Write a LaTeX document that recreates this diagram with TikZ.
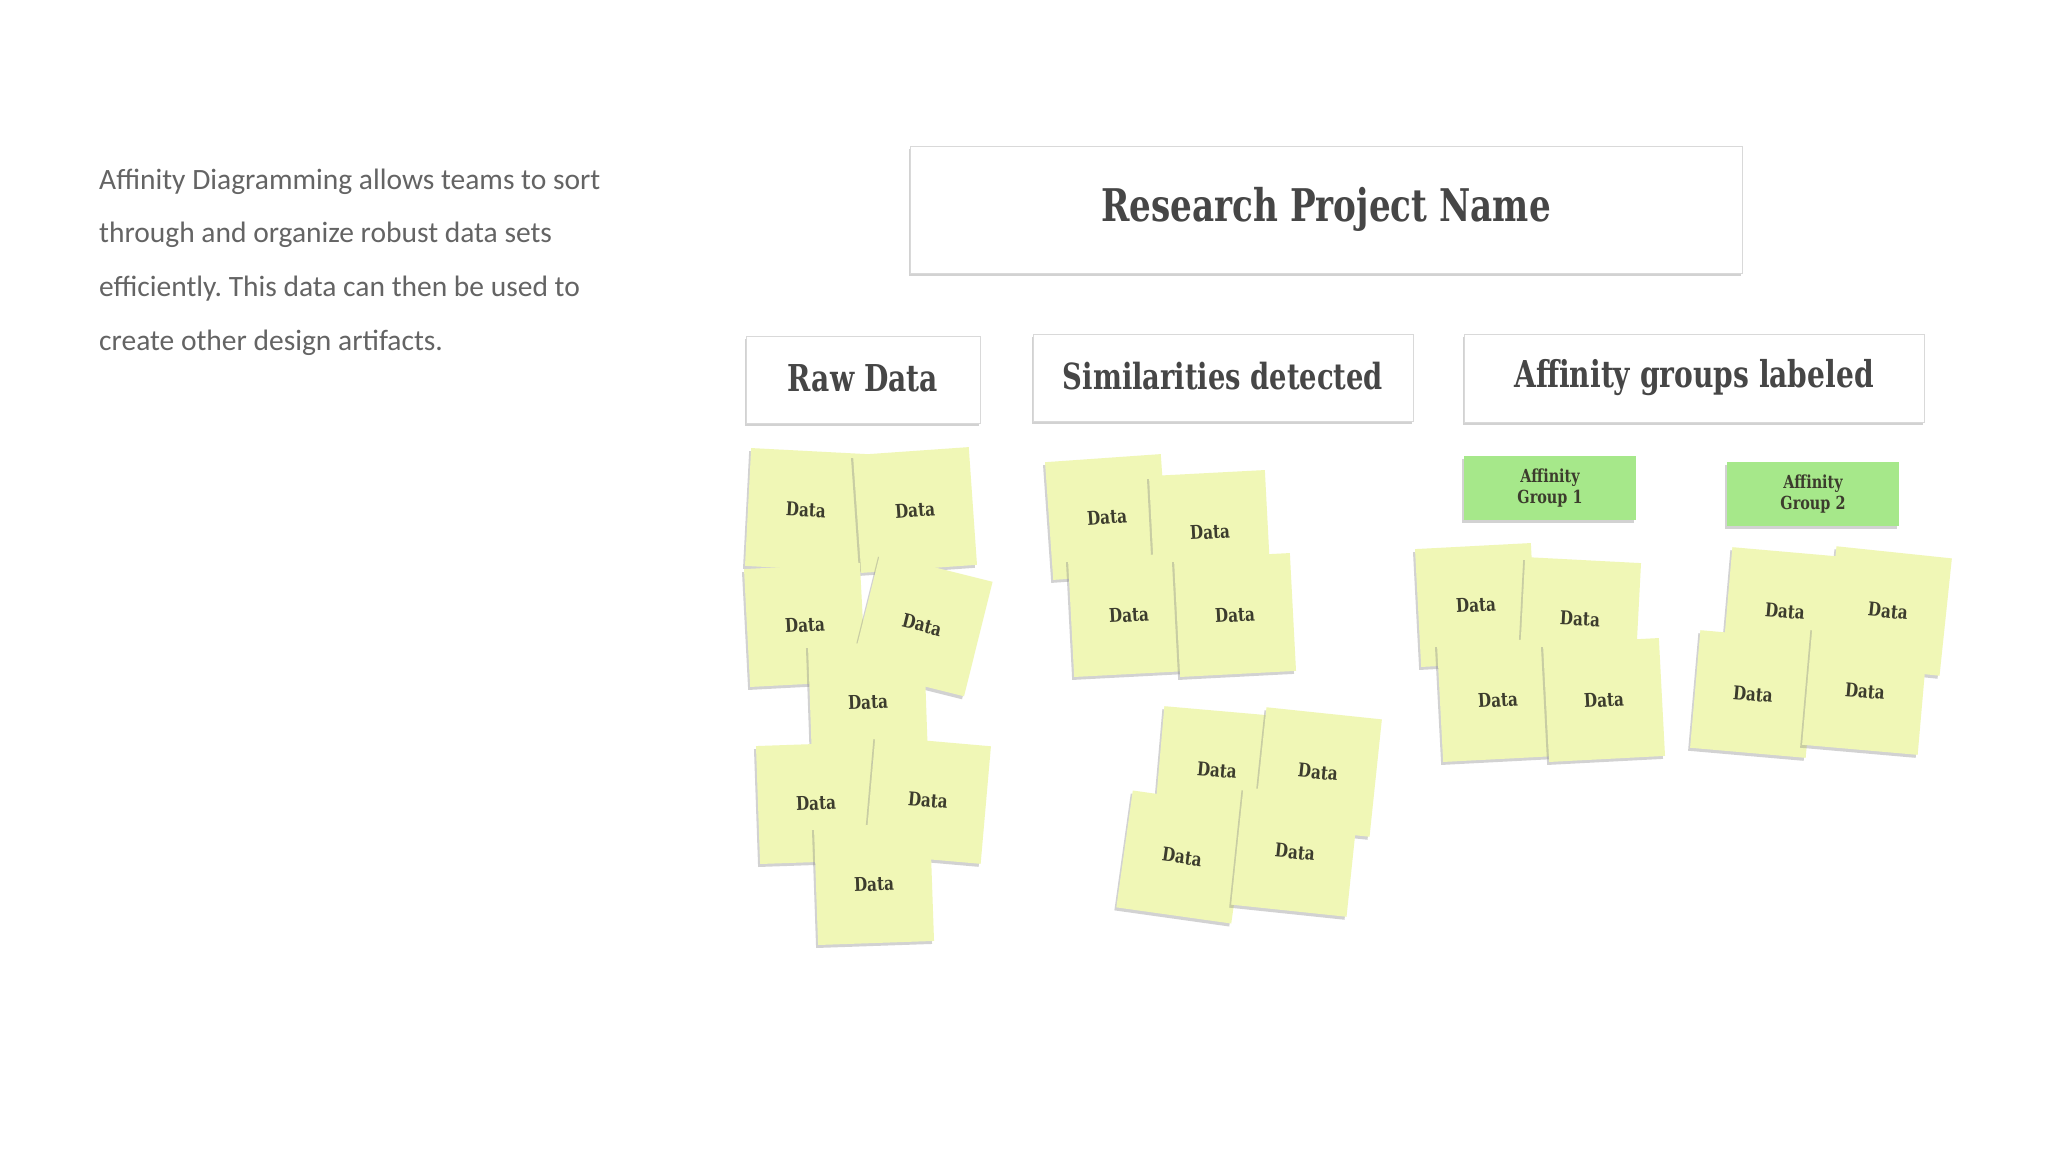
\documentclass[tikz,border=0pt]{standalone}
\usepackage{fontspec}
\setmainfont{Carlito}
\newfontfamily\slab[FakeStretch=0.76]{DejaVu Serif}
\newfontfamily\slabnote[FakeStretch=0.8]{DejaVu Serif}
\usetikzlibrary{shadows}
\definecolor{noteyellow}{RGB}{240,247,182}
\definecolor{notegreen}{RGB}{166,232,138}
\definecolor{bodygray}{RGB}{100,100,100}
\definecolor{headgray}{RGB}{70,70,70}
\definecolor{notetext}{RGB}{60,60,45}
\begin{document}
\frenchspacing
\begin{tikzpicture}[x=1pt,y=-1pt,
  headbox/.style={draw=black!15, fill=white, line width=0.8pt, inner sep=0pt,
    drop shadow={shadow xshift=-1.5pt, shadow yshift=-3pt, opacity=0.35},
    text=headgray},
  stickynote/.style={fill=noteyellow, minimum width=116pt, minimum height=118pt, inner sep=0pt,
    font=\slabnote\bfseries\fontsize{19}{20}\selectfont, text=notetext,
    drop shadow={shadow xshift=-2pt, shadow yshift=-3pt, opacity=0.35}},
  grouptag/.style={fill=notegreen, minimum width=172pt, minimum height=64pt, inner sep=0pt, align=center,
    font=\slabnote\bfseries\fontsize{18}{21}\selectfont, text=notetext,
    drop shadow={shadow xshift=-2pt, shadow yshift=-3pt, opacity=0.35}},
  bodytext/.style={anchor=base west, inner sep=0pt, font=\fontsize{29.5}{54}\selectfont, text=bodygray}]
\useasboundingbox (0,0) rectangle (2048,1152);
\fill[white] (0,0) rectangle (2048,1152);

% body text
\node[bodytext] (t1) at (99,189) {Affinity Diagramming allows teams to sort};
\node[bodytext] (t2) at (99,242) {through and organize robust data sets};
\node[bodytext] (t3) at (99,296) {efficiently. This data can then be used to};
\node[bodytext] (t4) at (99,350) {create other design artifacts.};

% header boxes
\node[headbox, minimum width=832pt, minimum height=127pt, font=\slab\bfseries\fontsize{45}{50}\selectfont] (title) at (1326,209.5) {\raisebox{4pt}{Research Project Name}};
\node[headbox, minimum width=234pt, minimum height=87pt, font=\slab\bfseries\fontsize{37}{40}\selectfont] (raw) at (863,379.5) {\raisebox{3pt}{Raw Data}};
\node[headbox, minimum width=380pt, minimum height=87pt, font=\slab\bfseries\fontsize{36}{40}\selectfont] (sim) at (1223,377.5) {\raisebox{3pt}{Similarities detected}};
\node[headbox, minimum width=460pt, minimum height=88pt, font=\slab\bfseries\fontsize{37}{40}\selectfont] (aff) at (1694,378) {\raisebox{3pt}{Affinity groups labeled}};

% raw data notes
\node[stickynote, rotate=-3] (r1) at (806,510) {Data};
\node[stickynote, rotate=4] (r2) at (915,510) {Data};
\node[stickynote, rotate=3] (r3) at (805,625) {Data};
\node[stickynote, rotate=-14] (r4) at (922,625) {Data};
\node[stickynote, rotate=2] (r5) at (868,702) {Data};
\node[stickynote, rotate=2] (r6) at (816,803) {Data};
\node[stickynote, rotate=-5] (r7) at (928,800) {Data};
\node[stickynote, rotate=2] (r8) at (874,884) {Data};

% similarities notes
\node[stickynote, rotate=4] (s1) at (1107,517) {Data};
\node[stickynote, rotate=3] (s2) at (1210,532) {Data};
\node[stickynote, rotate=3] (s3) at (1129,615) {Data};
\node[stickynote, rotate=3] (s4) at (1235,615) {Data};
\node[stickynote, rotate=-5] (s5) at (1217,770) {Data};
\node[stickynote, rotate=-6] (s6) at (1318,772) {Data};
\node[stickynote, rotate=-8] (s7) at (1182,857) {Data};
\node[stickynote, rotate=-6] (s8) at (1295,852) {Data};

% affinity groups
\node[grouptag] (g1) at (1550,488) {Affinity\\Group 1};
\node[grouptag] (g2) at (1813,494) {Affinity\\Group 2};

\node[stickynote, rotate=3] (a1) at (1476,605) {Data};
\node[stickynote, rotate=-3] (a2) at (1580,619) {Data};
\node[stickynote, rotate=3] (a3) at (1498,700) {Data};
\node[stickynote, rotate=3] (a4) at (1604,700) {Data};

\node[stickynote, rotate=-6] (b2) at (1888,611) {Data};
\node[stickynote, rotate=-5] (b1) at (1785,611) {Data};
\node[stickynote, rotate=-5] (b3) at (1753,694) {Data};
\node[stickynote, rotate=-5] (b4) at (1865,691) {Data};
\end{tikzpicture}
\end{document}
